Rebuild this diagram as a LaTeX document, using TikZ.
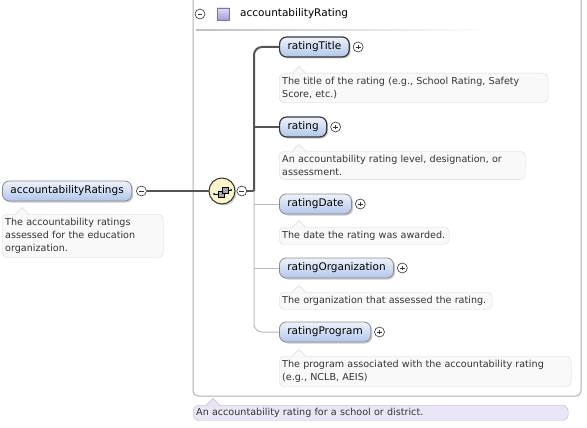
\documentclass[tikz,border=0pt]{standalone}
\usepackage{fontspec}
\setmainfont{DejaVu Sans}
\usetikzlibrary{shapes,shadows,positioning,calc}
\definecolor{elemtop}{RGB}{238,243,252}
\definecolor{elembot}{RGB}{178,198,234}
\definecolor{reqgray}{RGB}{55,55,55}
\definecolor{optgray}{RGB}{140,140,140}
\definecolor{descfill}{RGB}{249,249,249}
\definecolor{descline}{RGB}{218,218,218}
\definecolor{boxgray}{RGB}{175,175,175}
\definecolor{notefill}{RGB}{234,230,245}
\definecolor{noteline}{RGB}{188,182,206}
\definecolor{seqfill}{RGB}{250,243,190}
\definecolor{lilac}{RGB}{170,152,220}

\begin{document}
\begin{tikzpicture}[x=1pt, y=-1pt,
    element/.style={rounded corners=7pt, top color=elemtop, bottom color=elembot, minimum height=20pt, inner xsep=8pt, inner ysep=0pt, anchor=west, font=\fontsize{10.5}{12}\selectfont, drop shadow={shadow xshift=1.5pt, shadow yshift=-1.5pt, opacity=.4}},
    required/.style={element, draw=reqgray, line width=1.2pt},
    optional/.style={element, draw=optgray, line width=.8pt},
    desc/.style={rounded corners=5pt, fill=descfill, draw=descline, anchor=north west, align=left, inner xsep=3pt, inner ysep=4pt, text=black!80, font=\fontsize{9.6}{13}\selectfont},
    notch/.style={fill=descfill, draw=descline},
    toggle/.style={circle, draw=black!80, fill=white, minimum size=10pt, inner sep=0pt, line width=.6pt},
    collapse/.style={toggle, path picture={\draw[line width=.6pt] ([xshift=-2.4pt]path picture bounding box.center) -- ([xshift=2.4pt]path picture bounding box.center);}},
    expand/.style={toggle, path picture={\draw[line width=.6pt] ([xshift=-2.4pt]path picture bounding box.center) -- ([xshift=2.4pt]path picture bounding box.center) ([yshift=-2.4pt]path picture bounding box.center) -- ([yshift=2.4pt]path picture bounding box.center);}},
    reqline/.style={draw=reqgray!85, line width=2pt},
    optline/.style={draw=optgray!60, line width=1pt}
]
    \useasboundingbox (0,0) rectangle (587,428);

    % outer type box
    \draw[draw=boxgray, line width=1pt, rounded corners=5pt] (193,-10) -- (193,396) -- (581,396) -- (581,-10);
    \node[collapse] (headMinus) at (200,14) {};
    \node[draw=lilac!75!black, top color=lilac!35, bottom color=lilac, minimum size=12pt, inner sep=0pt] (headIcon) at (223,14) {};
    \node[anchor=west, inner sep=0pt, font=\fontsize{10.5}{12}\selectfont] (headLabel) at (240,14) {accountabilityRating};
    \shade[left color=black!25, right color=white] (196,29.5) rectangle (490,31);

    % parent element
    \node[optional] (accountabilityRatings) at (2,191) {accountabilityRatings};
    \node[collapse, right=4pt of accountabilityRatings] (rootMinus) {};
    \node[desc, text width=155pt] (rootDesc) at (2,214) {The accountability ratings\\assessed for the education\\organization.};

    % sequence
    \node[circle, draw=reqgray, line width=1pt, inner color=seqfill!40, outer color=seqfill, minimum size=26pt, drop shadow={shadow xshift=1.5pt, shadow yshift=-1.5pt, opacity=.4}] (seq) at (222,191) {};
    \begin{scope}[shift={(seq.center)}, line width=.5pt]
        \draw (-8,3) -- (-4,3) (6,-1) -- (9,-1);
        \fill (-8,3) circle (1pt) (9,-1) circle (1pt);
        \filldraw[fill=black!35] (-4,0) rectangle (2,6);
        \filldraw[fill=black!35] (0,-4) rectangle (6,2);
    \end{scope}
    \node[collapse, right=1pt of seq] (seqMinus) {};
    \coordinate (trunk) at (254,191);

    % children
    \node[required] (ratingTitle) at (279,47) {ratingTitle};
    \node[required] (rating) at (279,127) {rating};
    \node[optional] (ratingDate) at (279,204) {ratingDate};
    \node[optional] (ratingOrganization) at (279,268) {ratingOrganization};
    \node[optional] (ratingProgram) at (279,332) {ratingProgram};
    \foreach \el in {ratingTitle, rating, ratingDate, ratingOrganization, ratingProgram}
        \node[expand, right=3pt of \el] (\el Plus) {};

    \node[desc, text width=263pt] (titleDesc) at (279,73) {The title of the rating (e.g., School Rating, Safety\\Score, etc.)};
    \node[desc, text width=240pt] (ratingDesc) at (279,151) {An accountability rating level, designation, or\\assessment.};
    \node[desc, text width=164pt] (dateDesc) at (279,227) {The date the rating was awarded.};
    \node[desc, text width=207pt] (orgDesc) at (279,292) {The organization that assessed the rating.};
    \node[desc, text width=286pt] (programDesc) at (279,356) {The program associated with the accountability rating\\(e.g., NCLB, AEIS)};

    \foreach \d in {rootDesc, titleDesc, ratingDesc, dateDesc, orgDesc, programDesc}
        \draw[notch] ([xshift=13pt, yshift=-.5pt]\d.north west) -- ++(7,-7) -- ++(7,7);

    % type note
    \node[desc, fill=notefill, draw=noteline, rounded corners=6pt, text width=369pt, inner ysep=3pt] (typeNote) at (193,405) {An accountability rating for a school or district.};
    \draw[fill=notefill, draw=noteline] ([xshift=13pt, yshift=-.5pt]typeNote.north west) -- ++(7,-7) -- ++(7,7);

    % connectors
    \draw[reqgray!85, line width=1.5pt] (rootMinus.east) -- (seq.west);
    \draw[reqline] (seqMinus.east) -- (trunk);
    \draw[reqline, rounded corners=8pt] (trunk) |- (ratingTitle.west);
    \draw[reqline] (trunk |- rating.west) -- (rating.west);
    \draw[optline, rounded corners=8pt] (trunk) |- (ratingProgram.west);
    \foreach \el in {ratingDate, ratingOrganization}
        \draw[optline] (trunk |- \el.west) -- (\el.west);

\end{tikzpicture}
\end{document}
